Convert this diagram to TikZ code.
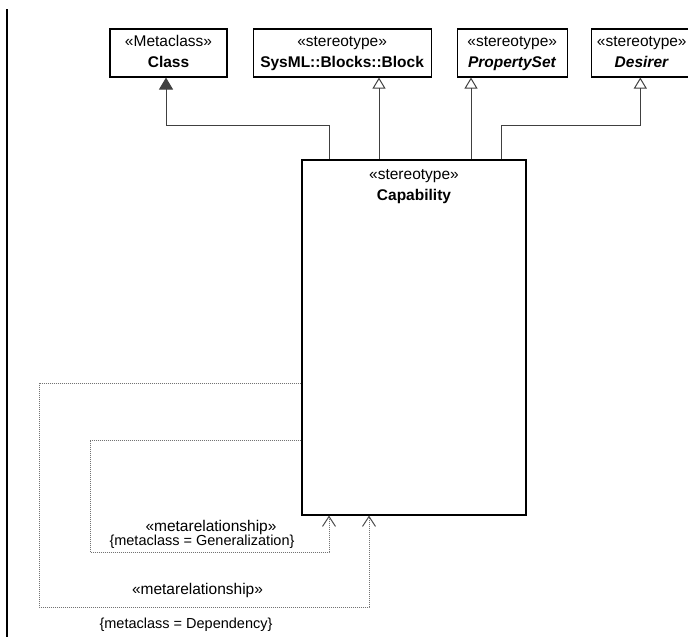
\documentclass[tikz,border=0pt]{standalone}
\usepackage{fontspec}
\setmainfont{Liberation Sans}
\usepackage{tikz}
\usetikzlibrary{arrows.meta,positioning}

\newcommand{\umlfont}{\fontsize{15.5}{21}\selectfont}
\newcommand{\consfont}{\fontsize{14.5}{17}\selectfont}
\newcommand{\stereo}[2]{\strut«#1»\\\strut#2}

\begin{document}
\begin{tikzpicture}[x=1pt,y=-1pt,
    box/.style={draw=black, line width=1.1pt, fill=white, inner sep=0pt,
      align=center, font=\umlfont},
    lbl/.style={inner sep=0pt, font=\umlfont},
    cons/.style={inner sep=0pt, font=\consfont},
    gen/.style={draw=black!75, line width=1pt,
      -{Triangle[open, length=11pt, width=13pt]}},
    ext/.style={draw=black!75, line width=1pt,
      -{Triangle[length=12pt, width=14pt]}},
    metarel/.style={draw=black!55, line width=1pt, dash pattern=on 1pt off 1pt,
      -{Straight Barb[length=10pt, width=13pt, color=black!70]}}]
  \useasboundingbox (0,0) rectangle (688,637);

  % page margin line
  \draw[line width=2pt] (7,9) -- (7,640);

  % stereotypes on top
  \node[box, minimum width=117pt, minimum height=48pt] (class) at (168.5,53)
    {\stereo{Metaclass}{\textbf{Class}}};
  \node[box, minimum width=178pt, minimum height=48pt, right=25pt of class] (block)
    {\stereo{stereotype}{\textbf{SysML::Blocks::Block}}};
  \node[box, minimum width=110pt, minimum height=48pt, right=25pt of block] (propset)
    {\stereo{stereotype}{\textbf{\itshape PropertySet}}};
  \node[box, minimum width=101pt, minimum height=48pt, right=23pt of propset] (desirer)
    {\stereo{stereotype}{\textbf{\itshape Desirer}}};

  % the capability stereotype
  \node[box, minimum width=224pt, minimum height=355pt] (cap) at (414,337.5) {};
  \node[lbl, align=center, anchor=north] (captitle) at ([yshift=-5.3pt]cap.north)
    {\stereo{stereotype}{\textbf{Capability}}};

  % extension and generalizations
  \draw[ext] ([xshift=-85pt]cap.north) -- ++(0,-34) -| ([xshift=-2.5pt]class.south);
  \draw[gen] ([xshift=-35pt]cap.north) -- ([xshift=-35pt]cap.north |- block.south);
  \draw[gen] ([xshift=57pt]cap.north) -- ([xshift=57pt]cap.north |- propset.south);
  \draw[gen] ([xshift=87pt]cap.north) -- ++(0,-34) -| ([xshift=-1.5pt]desirer.south);

  % metarelationships back onto capability
  \draw[metarel] (cap.west |- 0,383) -| (39,607) -| (cap.south -| 369,0);
  \draw[metarel] (cap.west |- 0,440) -| (90,552) -| (cap.south -| 329,0);

  % labels of the metarelationships
  \node[lbl, anchor=base] (genst) at (211,531) {«metarelationship»};
  \node[cons, anchor=base] (gencons) at (202,545) {\{metaclass = Generalization\}};
  \node[lbl, anchor=base] (depst) at (197.5,594) {«metarelationship»};
  \node[cons, anchor=base] (depcons) at (186,628) {\{metaclass = Dependency\}};
\end{tikzpicture}
\end{document}
